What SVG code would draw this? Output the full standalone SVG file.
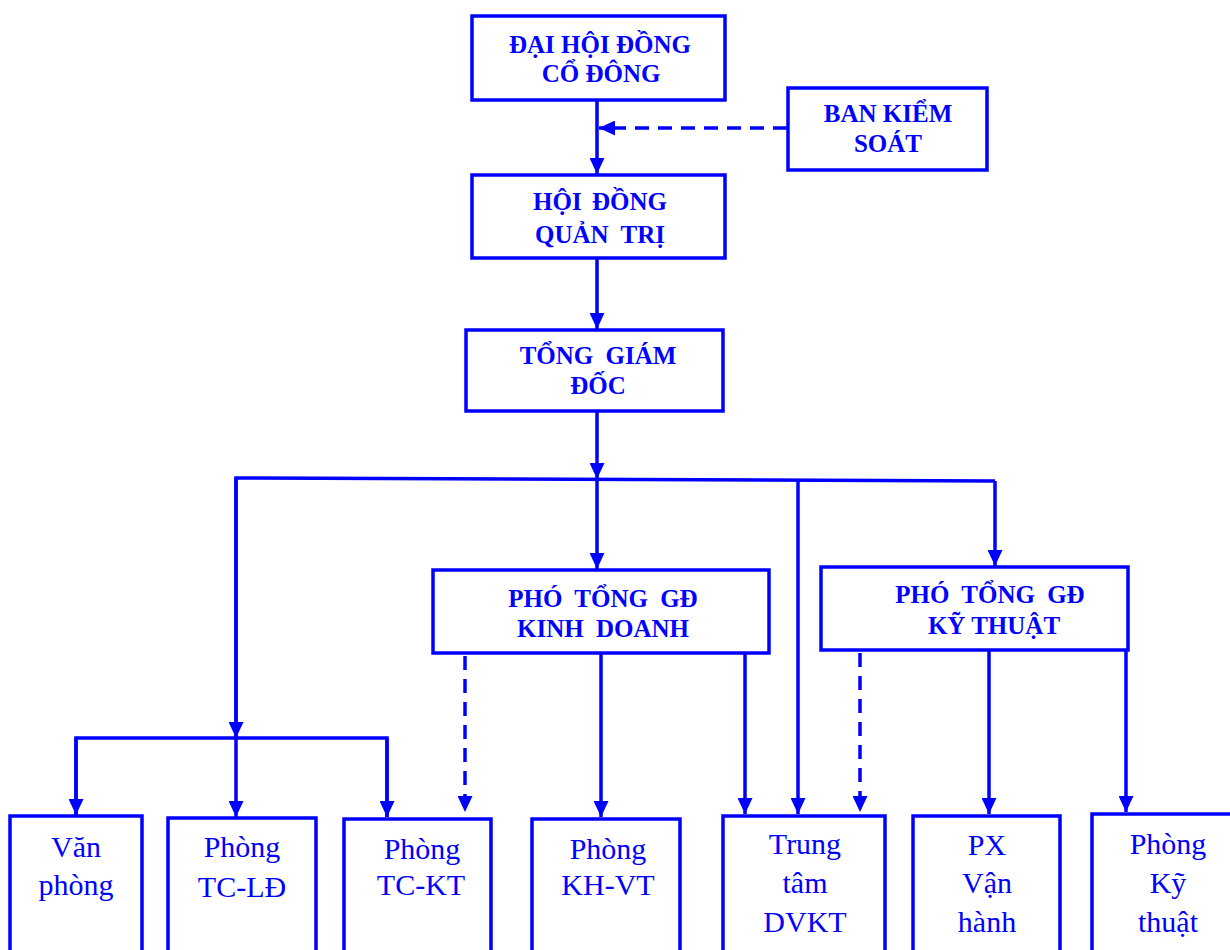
<svg xmlns="http://www.w3.org/2000/svg" width="1230" height="950" viewBox="0 0 1230 950">
<defs>
<marker id="av" markerUnits="userSpaceOnUse" markerWidth="17" markerHeight="15" refX="16" refY="7.5" orient="auto" viewBox="0 0 17 15">
<path d="M0,0 L16,7.5 L0,15 Z" fill="#0000FF"/>
</marker>
<style>
.box{fill:#fff;stroke:#0000FF;stroke-width:3.5}
.ln{fill:none;stroke:#0000FF;stroke-width:3.5}
.dash{stroke-dasharray:14 9}
.t{font-family:"Liberation Serif","Times New Roman",serif;font-weight:bold;font-size:25px;fill:#0000FF;text-anchor:middle}
.b{font-family:"Liberation Serif","Times New Roman",serif;font-size:30px;fill:#0000FF;text-anchor:middle}
</style>
</defs>
<rect width="1230" height="950" fill="#fff"/>
<g id="connectors">
<line class="ln" x1="597" y1="101" x2="597" y2="174" marker-end="url(#av)"/>
<line class="ln dash" x1="787" y1="128" x2="599" y2="128" marker-end="url(#av)"/>
<line class="ln" x1="597" y1="258" x2="597" y2="329" marker-end="url(#av)"/>
<line class="ln" x1="597" y1="411" x2="597" y2="479" marker-end="url(#av)"/>
<polyline class="ln" points="236,738 236,478 995,481"/>
<line class="ln" x1="236" y1="478" x2="236" y2="738" marker-end="url(#av)"/>
<line class="ln" x1="597" y1="479" x2="597" y2="569" marker-end="url(#av)"/>
<line class="ln" x1="798" y1="480" x2="798" y2="814" marker-end="url(#av)"/>
<line class="ln" x1="995" y1="481" x2="995" y2="566" marker-end="url(#av)"/>
<polyline class="ln" points="76,815 76,738 387,738 387,817"/>
<line class="ln" x1="76" y1="738" x2="76" y2="815" marker-end="url(#av)"/>
<line class="ln" x1="236" y1="738" x2="236" y2="817" marker-end="url(#av)"/>
<line class="ln" x1="387" y1="738" x2="387" y2="817" marker-end="url(#av)"/>
<line class="ln dash" x1="465" y1="656" x2="465" y2="812" marker-end="url(#av)"/>
<line class="ln" x1="601" y1="653" x2="601" y2="817" marker-end="url(#av)"/>
<line class="ln" x1="745" y1="653" x2="745" y2="814" marker-end="url(#av)"/>
<line class="ln dash" x1="860" y1="653" x2="860" y2="812" marker-end="url(#av)"/>
<line class="ln" x1="989" y1="650" x2="989" y2="814" marker-end="url(#av)"/>
<line class="ln" x1="1126" y1="650" x2="1126" y2="812" marker-end="url(#av)"/>
</g>
<g id="dhdcd"><rect class="box" x="472" y="16" width="253" height="84"/><text class="t" x="600" y="53">ĐẠI HỘI ĐỒNG</text><text class="t" x="601" y="82">CỔ ĐÔNG</text></g>
<g id="bks"><rect class="box" x="788" y="88" width="199" height="82"/><text class="t" x="888" y="122">BAN KIỂM</text><text class="t" x="888" y="152">SOÁT</text></g>
<g id="hdqt"><rect class="box" x="472" y="175" width="253" height="83"/><text class="t" x="600" y="210" word-spacing="4">HỘI ĐỒNG</text><text class="t" x="600" y="243" word-spacing="6">QUẢN TRỊ</text></g>
<g id="tgd"><rect class="box" x="466" y="330" width="257" height="81"/><text class="t" x="598" y="364" word-spacing="6">TỔNG GIÁM</text><text class="t" x="598" y="394">ĐỐC</text></g>
<g id="ptgdkd"><rect class="box" x="433" y="570" width="336" height="83"/><text class="t" x="603" y="607" word-spacing="6">PHÓ TỔNG GĐ</text><text class="t" x="603" y="637" word-spacing="6">KINH DOANH</text></g>
<g id="ptgdkt"><rect class="box" x="821" y="567" width="307" height="83"/><text class="t" x="990" y="603" word-spacing="6">PHÓ TỔNG GĐ</text><text class="t" x="994" y="634">KỸ THUẬT</text></g>
<g id="vp"><rect class="box" x="10" y="816" width="132" height="140"/><text class="b" x="76" y="857">Văn</text><text class="b" x="76" y="895">phòng</text></g>
<g id="tcld"><rect class="box" x="168" y="818" width="148" height="140"/><text class="b" x="242" y="857">Phòng</text><text class="b" x="242" y="897">TC-LĐ</text></g>
<g id="tckt"><rect class="box" x="344" y="819" width="147" height="140"/><text class="b" x="422" y="859">Phòng</text><text class="b" x="421" y="895">TC-KT</text></g>
<g id="khvt"><rect class="box" x="532" y="819" width="148" height="140"/><text class="b" x="608" y="859">Phòng</text><text class="b" x="608" y="895">KH-VT</text></g>
<g id="ttdvkt"><rect class="box" x="723" y="816" width="162" height="140"/><text class="b" x="805" y="854">Trung</text><text class="b" x="805" y="893">tâm</text><text class="b" x="805" y="932">DVKT</text></g>
<g id="pxvh"><rect class="box" x="913" y="816" width="147" height="140"/><text class="b" x="987" y="855">PX</text><text class="b" x="987" y="893">Vận</text><text class="b" x="987" y="932">hành</text></g>
<g id="pkt"><rect class="box" x="1092" y="814" width="145" height="140"/><text class="b" x="1168" y="854">Phòng</text><text class="b" x="1168" y="893">Kỹ</text><text class="b" x="1168" y="932">thuật</text></g>
</svg>
